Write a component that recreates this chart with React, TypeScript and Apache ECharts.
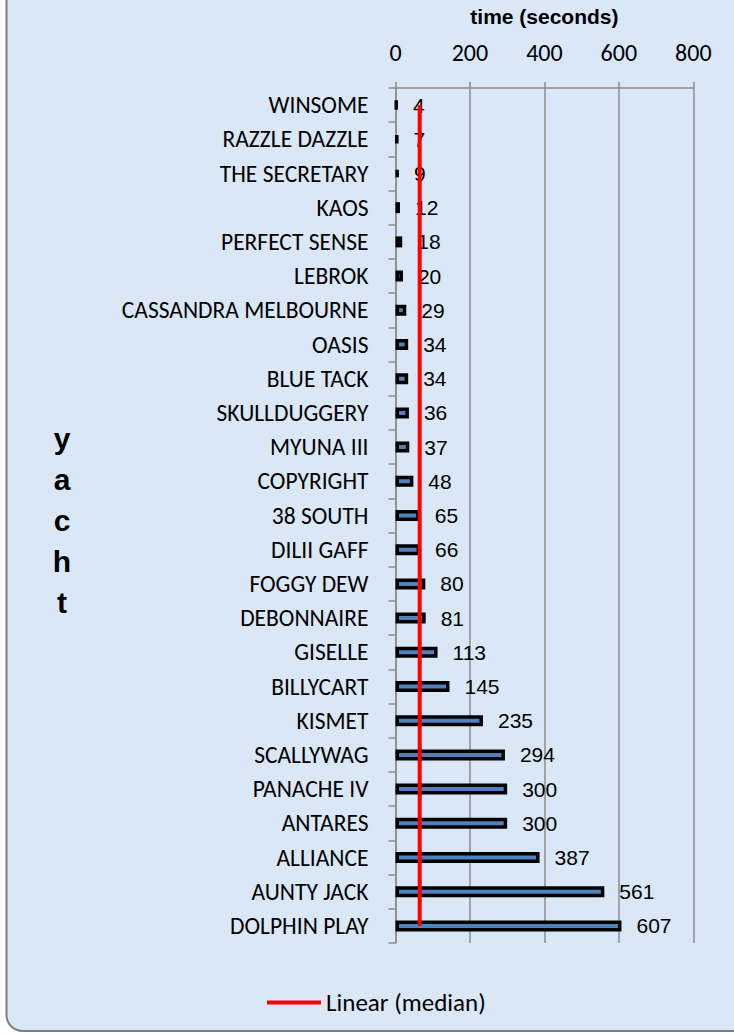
import React, { useEffect, useRef } from "react";
import * as echarts from "echarts";

const yachts = [
  "WINSOME", "RAZZLE DAZZLE", "THE SECRETARY", "KAOS", "PERFECT SENSE", "LEBROK",
  "CASSANDRA MELBOURNE", "OASIS", "BLUE TACK", "SKULLDUGGERY", "MYUNA III", "COPYRIGHT",
  "38 SOUTH", "DILII GAFF", "FOGGY DEW", "DEBONNAIRE", "GISELLE", "BILLYCART",
  "KISMET", "SCALLYWAG", "PANACHE IV", "ANTARES", "ALLIANCE", "AUNTY JACK", "DOLPHIN PLAY",
];
const times = [4, 7, 9, 12, 18, 20, 29, 34, 34, 36, 37, 48, 65, 66, 80, 81, 113, 145, 235, 294, 300, 300, 387, 561, 607];
const median = [65, 65, 65, 65, 65, 65, 65, 65, 65, 65, 65, 65, 65, 65, 65, 65, 65, 65, 65, 65, 65, 65, 65, 65, 65];
const xMin = 0;
const xMax = 800;
const xStep = 200;

const calibri = "Carlito, Calibri, Lato, sans-serif";
const arial = "Arial, 'Liberation Sans', sans-serif";

export default function App() {
  const ref = useRef<HTMLDivElement>(null);
  useEffect(() => {
    if (!ref.current) return;
    const chart = echarts.init(ref.current, undefined, { renderer: "svg" });
    chart.setOption({
      animation: false,
      backgroundColor: "#ffffff",
      graphic: [
        {
          type: "rect",
          z: -10,
          shape: { x: 6.5, y: -30, width: 760, height: 1061, r: 16 },
          style: { fill: "#d9e7f6", stroke: "#808080", lineWidth: 2 },
          silent: true,
        },
        {
          type: "text",
          x: 62,
          y: 520,
          style: {
            text: "y\na\nc\nh\nt",
            font: "bold 30px " + arial,
            lineHeight: 41,
            fill: "#000",
            align: "center",
            verticalAlign: "middle",
          },
        },
      ],
      grid: { left: 395.5, right: 40.7, top: 88, bottom: 92, containLabel: false },
      legend: {
        data: ["Linear (median)"],
        left: 262,
        top: 985,
        icon: "rect",
        itemWidth: 54,
        itemHeight: 4,
        textStyle: { fontFamily: calibri, fontSize: 25, color: "#000" },
      },
      xAxis: {
        type: "value",
        position: "top",
        min: xMin,
        max: xMax,
        interval: xStep,
        name: "time (seconds)",
        nameLocation: "middle",
        nameGap: 61,
        nameTextStyle: { fontFamily: arial, fontWeight: "bold", fontSize: 21, color: "#000" },
        axisLine: { show: true, lineStyle: { color: "#8c8c8c", width: 1.5 } },
        axisTick: { show: true, inside: false, length: 6, lineStyle: { color: "#8c8c8c", width: 1.5 } },
        axisLabel: { fontFamily: calibri, fontSize: 24, color: "#000", margin: 24 },
        splitLine: { show: true, lineStyle: { color: "#8c8c8c", width: 1.5 } },
      },
      yAxis: {
        type: "category",
        inverse: true,
        data: yachts,
        axisLine: { show: true, lineStyle: { color: "#8c8c8c", width: 1.5 } },
        axisTick: { show: true, inside: false, length: 7, lineStyle: { color: "#8c8c8c", width: 1.5 } },
        axisLabel: { fontFamily: calibri, fontSize: 23.5, color: "#000", margin: 27 },
        splitLine: { show: false },
      },
      series: [
        {
          name: "time",
          type: "bar",
          data: times,
          barWidth: 11,
          itemStyle: { color: "#4F81BD", borderColor: "#000", borderWidth: 3.5 },
          label: {
            show: true,
            position: "right",
            distance: 15,
            fontFamily: arial,
            fontSize: 21,
            color: "#000",
          },
          z: 2,
        },
        {
          name: "Linear (median)",
          type: "line",
          data: median,
          symbol: "none",
          lineStyle: { color: "#ff0000", width: 4 },
          itemStyle: { color: "#ff0000" },
          z: 5,
        },
      ],
    });
    return () => chart.dispose();
  }, []);
  return (
    <div
      ref={ref}
      style={{ position: "absolute", left: 0, top: 0, width: 734, height: 1035 }}
    />
  );
}
